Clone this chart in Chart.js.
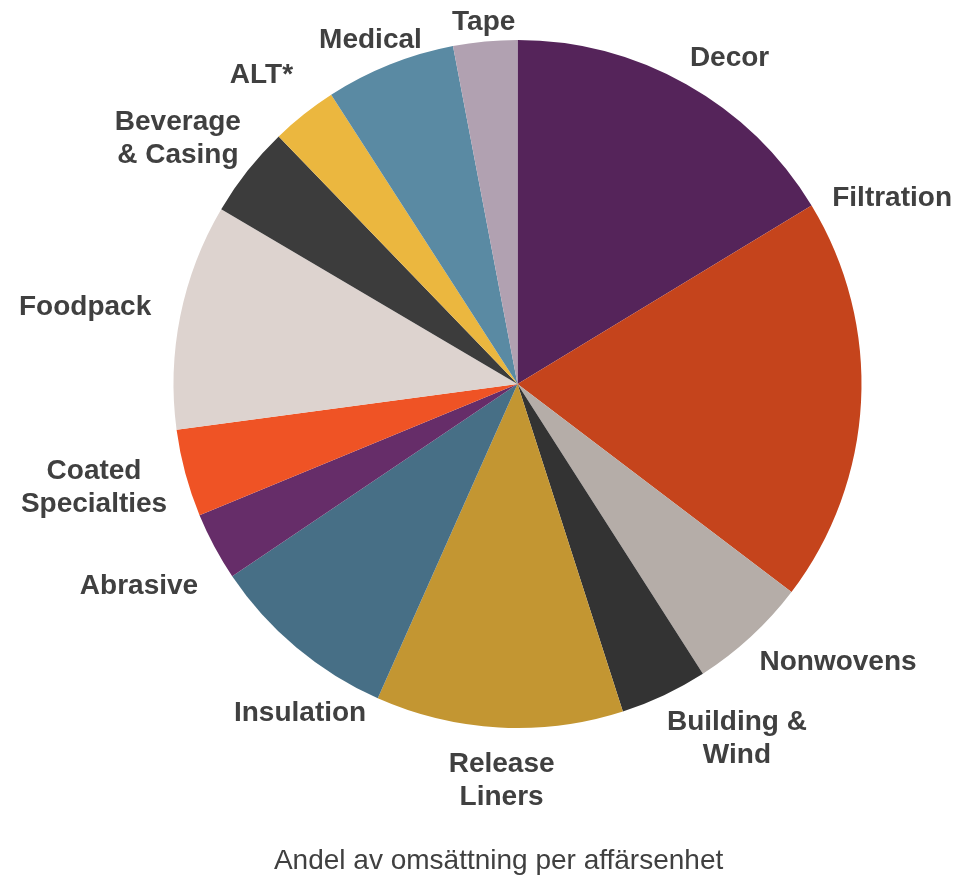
<!DOCTYPE html>
<html>
<head>
<meta charset="utf-8">
<script src="https://cdn.jsdelivr.net/npm/chart.js@4.4.1/dist/chart.umd.min.js"></script>
<style>
  html, body { margin: 0; padding: 0; background: #fff; }
  #wrap { width: 959px; height: 875px; }
</style>
</head>
<body>
<div id="wrap"><canvas id="pieChart" width="959" height="875"></canvas></div>
<script>
// Business units, clockwise from 12 o'clock
var categories = [
    'Decor', 'Filtration', 'Nonwovens', ['Building &', 'Wind'], ['Release', 'Liners'],
    'Insulation', 'Abrasive', ['Coated', 'Specialties'], 'Foodpack',
    ['Beverage', '& Casing'], 'ALT*', 'Medical', 'Tape'
];

// Share of sales, %
var shares = [16.3, 19.0, 5.6, 4.1, 11.6, 8.9, 3.2, 4.1, 10.6, 4.3, 3.1, 6.1, 3.0];

var sliceColors = [
    '#55245A', '#C5441C', '#B5ADA8', '#333333', '#C39632',
    '#476F86', '#662D69', '#EF5325', '#DDD3CF',
    '#3C3C3C', '#EBB73F', '#5A8AA3', '#B1A1B1'
];

var chartTitle = 'Andel av omsättning per affärsenhet';

// Where each label sits: angle (deg, clockwise from top) and distance in pie radii
var labelAngle = [32.9, 63.3, 130.7, 148.1, 182.3, 213.6, 242.1, 256.5, 280.4, 306.1, 320.5, 337.0, 354.7];
var labelDist  = [1.135, 1.219, 1.229, 1.207, 1.149, 1.142, 1.245, 1.266, 1.278, 1.222, 1.170, 1.094, 1.063];

var textColor = '#404040';
var fontFamily = '"Liberation Sans", Arial, Helvetica, sans-serif';

// Draws the outside labels and the caption under the pie
var outsideLabels = {
    id: 'outsideLabels',
    afterDraw: function(chart) {
        var ctx = chart.ctx;
        var meta = chart.getDatasetMeta(0);
        var arc0 = meta.data[0].getProps(['x', 'y', 'outerRadius'], true);
        var cx = arc0.x, cy = arc0.y, r = arc0.outerRadius;

        ctx.save();
        ctx.fillStyle = textColor;
        ctx.textAlign = 'center';
        ctx.textBaseline = 'alphabetic';
        ctx.font = 'bold 28px ' + fontFamily;

        var lineH = 33;
        var capShift = 10; // baseline below the middle of capitals
        meta.data.forEach(function(arc, i) {
            var a = labelAngle[i] * Math.PI / 180;
            var d = labelDist[i] * r;
            var lx = cx + d * Math.sin(a);
            var ly = cy - d * Math.cos(a);
            var lines = Array.isArray(categories[i]) ? categories[i] : [categories[i]];
            var y0 = ly - (lines.length - 1) * lineH / 2;
            lines.forEach(function(t, k) {
                ctx.fillText(t, lx, y0 + k * lineH + capShift);
            });
        });

        // caption
        ctx.font = '28px ' + fontFamily;
        ctx.fillText(chartTitle, cx - 0.055 * r, cy + 1.38 * r + capShift);
        ctx.restore();
    }
};

var ctx = document.getElementById('pieChart').getContext('2d');

var myPieChart = new Chart(ctx, {
    type: 'pie',
    data: {
        labels: categories,
        datasets: [{
            data: shares,
            backgroundColor: sliceColors,
            borderWidth: 0
        }]
    },
    options: {
        responsive: false,
        animation: false,
        layout: {
            padding: { left: 173, right: 97, top: 40, bottom: 147 }
        },
        plugins: {
            legend: { display: false },
            tooltip: { enabled: false },
            title: { display: false }
        }
    },
    plugins: [outsideLabels]
});
</script>
</body>
</html>
